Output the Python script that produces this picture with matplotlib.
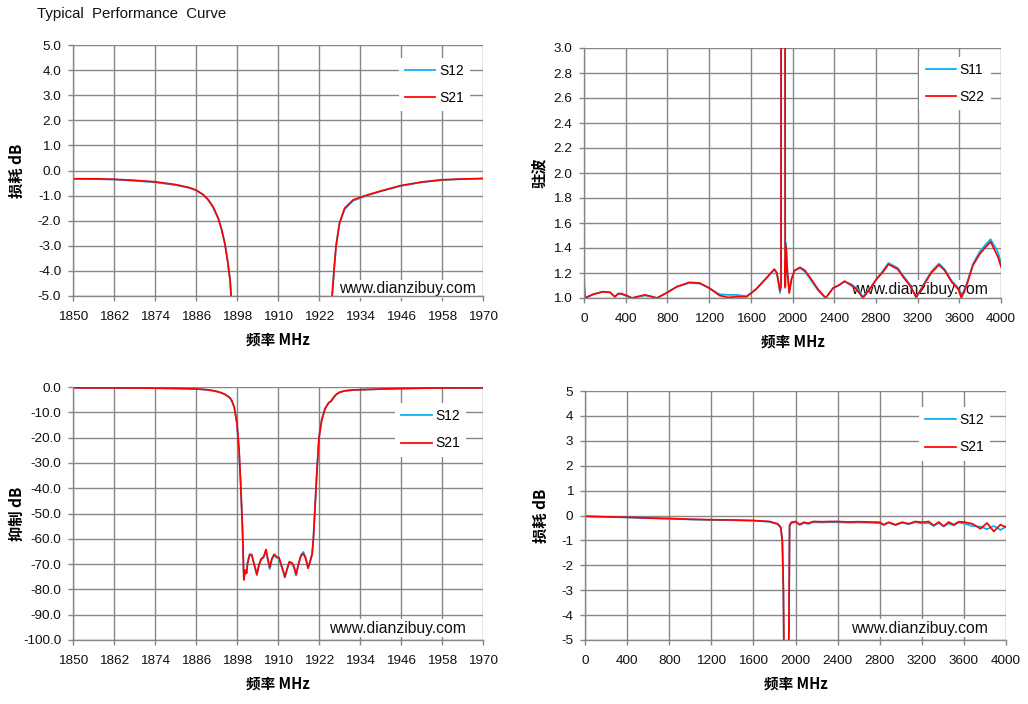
import matplotlib
matplotlib.use('Agg')
import matplotlib.pyplot as plt
import matplotlib.ticker as ticker
import numpy as np

plt.rcParams['font.family'] = ['Liberation Sans', 'Noto Sans CJK SC', 'DejaVu Sans']

# --- narrow band 1850-1970 MHz (top-left and bottom-left) ---
nb_freq = [1850, 1856, 1862, 1868, 1874, 1880, 1884, 1886, 1888, 1889.5,
           1891, 1892.5, 1893.5, 1894.5, 1895.3, 1896.0, 1896.5, 1897.2, 1898.0, 1898.6,
           1899.1, 1899.6, 1900.0, 1900.4, 1900.8, 1901.1, 1901.7, 1902.3, 1903.1, 1903.8,
           1904.4, 1905.1, 1905.8, 1906.5, 1907.0, 1907.6, 1908.2, 1908.9, 1909.6, 1910.3,
           1910.9, 1911.5, 1912.0, 1912.7, 1913.3, 1914.1, 1914.7, 1915.3, 1915.9, 1916.7,
           1917.4, 1918.1, 1918.8, 1919.4, 1920.0, 1920.4, 1920.9, 1921.4, 1922.0, 1922.8,
           1923.8, 1924.8, 1925.5, 1926.0, 1926.5, 1927.0, 1928.0, 1929.5, 1932, 1936,
           1940, 1946, 1952, 1958, 1964, 1970]
nb_s21 = [-0.33, -0.33, -0.35, -0.39, -0.45, -0.56, -0.68, -0.78, -0.95, -1.15,
          -1.45, -1.9, -2.35, -2.95, -3.65, -4.4, -5.5, -8.0, -14.5, -25,
          -39, -56, -76.3, -72.6, -73.7, -69.7, -66.4, -66.4, -70.4, -74.0,
          -70.4, -67.8, -67.1, -64.2, -67.8, -71.3, -67.8, -66.1, -67.1, -67.4,
          -70.0, -72.6, -75.0, -71.7, -69.1, -69.5, -71.0, -74.1, -70.4, -66.8,
          -65.8, -67.8, -71.7, -69.1, -66.1, -59, -46, -33, -20, -13,
          -8.5, -6.3, -5.6, -4.7, -3.8, -3.0, -2.1, -1.5, -1.17, -0.98,
          -0.82, -0.60, -0.46, -0.37, -0.34, -0.32]
nb_s12 = [-0.33, -0.34, -0.36, -0.41, -0.47, -0.58, -0.69, -0.79, -0.96, -1.16,
          -1.46, -1.91, -2.35, -2.95, -3.65, -4.4, -5.5, -8.0, -14.6, -25,
          -39, -56, -75.8, -72.3, -73.2, -69.3, -66.0, -66.2, -70.6, -74.4,
          -70.8, -68.2, -67.4, -64.6, -68.3, -72.0, -68.2, -66.5, -67.5, -67.9,
          -70.5, -73.0, -75.3, -72.0, -69.3, -69.8, -71.4, -74.5, -70.6, -66.5,
          -65.2, -67.4, -71.2, -68.7, -65.8, -59, -46, -33, -20, -13,
          -8.5, -6.3, -5.6, -4.7, -3.8, -3.0, -2.1, -1.55, -1.2, -1.0,
          -0.83, -0.61, -0.47, -0.38, -0.34, -0.32]

# --- wide band VSWR 0-4000 MHz (top-right) ---
vs_freq = [0, 10, 90, 180, 250, 295, 330, 360, 410, 460,
           510, 585, 630, 700, 790, 890, 1010, 1110, 1200, 1300,
           1380, 1460, 1560, 1650, 1750, 1826, 1850, 1880, 1890, 1896,
           1921, 1930, 1938, 1952, 1969, 1990, 2020, 2072, 2120, 2180,
           2245, 2318, 2390, 2440, 2500, 2565, 2612, 2676, 2740, 2805,
           2870, 2920, 2965, 3010, 3060, 3125, 3187, 3250, 3330, 3405,
           3460, 3525, 3590, 3620, 3670, 3730, 3795, 3845, 3900, 3970,
           4000]
vs_s22 = [1.14, 1.0, 1.03, 1.05, 1.045, 1.01, 1.035, 1.035, 1.02, 1.0,
          1.01, 1.025, 1.015, 1.0, 1.04, 1.09, 1.125, 1.12, 1.08, 1.02,
          1.005, 1.01, 1.01, 1.07, 1.16, 1.23, 1.2, 1.06, 1.1, 20.0,
          20.0, 1.09, 1.41, 1.2, 1.04, 1.15, 1.22, 1.245, 1.22, 1.15,
          1.07, 1.0, 1.08, 1.1, 1.135, 1.1, 1.07, 1.0, 1.07, 1.15,
          1.21, 1.27, 1.25, 1.23, 1.17, 1.1, 1.01, 1.09, 1.2, 1.265,
          1.22, 1.13, 1.07, 1.0, 1.1, 1.26, 1.35, 1.40, 1.45, 1.33,
          1.25]
vs_s11 = [1.0, 1.0, 1.03, 1.05, 1.045, 1.01, 1.035, 1.03, 1.015, 1.0,
          1.01, 1.02, 1.015, 1.0, 1.04, 1.09, 1.12, 1.115, 1.08, 1.03,
          1.025, 1.025, 1.015, 1.07, 1.16, 1.23, 1.2, 1.04, 1.1, 20.0,
          20.0, 1.08, 1.44, 1.2, 1.05, 1.15, 1.22, 1.24, 1.21, 1.14,
          1.06, 1.0, 1.08, 1.1, 1.13, 1.11, 1.08, 1.01, 1.07, 1.15,
          1.22, 1.28, 1.26, 1.24, 1.18, 1.11, 1.0, 1.1, 1.21, 1.275,
          1.23, 1.14, 1.08, 1.01, 1.11, 1.27, 1.37, 1.42, 1.47, 1.37,
          1.28]

# --- wide band loss 0-4000 MHz (bottom-right) ---
wb_freq = [0, 200, 400, 600, 800, 1000, 1200, 1400, 1600, 1750,
           1830, 1860, 1875, 1885, 1891, 1900, 1925, 1935, 1944, 1960,
           2000, 2040, 2080, 2120, 2170, 2250, 2330, 2400, 2500, 2600,
           2700, 2800, 2838, 2886, 2949, 3013, 3076, 3139, 3200, 3266,
           3313, 3361, 3408, 3456, 3503, 3551, 3608, 3680, 3757, 3820,
           3884, 3947, 4000]
wb_s21 = [-0.03, -0.05, -0.07, -0.10, -0.12, -0.15, -0.17, -0.18, -0.20, -0.24,
          -0.33, -0.47, -1.0, -3.0, -6.0, -70, -70, -6.0, -0.40, -0.27,
          -0.24, -0.36, -0.27, -0.31, -0.24, -0.25, -0.24, -0.24, -0.26, -0.25,
          -0.26, -0.27, -0.37, -0.27, -0.37, -0.27, -0.33, -0.24, -0.27, -0.24,
          -0.40, -0.26, -0.43, -0.26, -0.37, -0.25, -0.27, -0.33, -0.53, -0.30,
          -0.64, -0.37, -0.47]
wb_s12 = [-0.03, -0.06, -0.08, -0.11, -0.13, -0.16, -0.18, -0.19, -0.21, -0.25,
          -0.35, -0.50, -1.1, -3.2, -6.0, -70, -70, -6.0, -0.42, -0.30,
          -0.27, -0.38, -0.30, -0.34, -0.27, -0.28, -0.27, -0.27, -0.29, -0.28,
          -0.29, -0.31, -0.38, -0.29, -0.39, -0.29, -0.35, -0.27, -0.32, -0.30,
          -0.42, -0.30, -0.44, -0.32, -0.40, -0.28, -0.33, -0.42, -0.45, -0.55,
          -0.42, -0.58, -0.45]

nb_ticks = np.arange(1850, 1971, 12)
wb_ticks = np.arange(0, 4001, 400)

CYAN = '#00B0F0'
RED = '#FF0000'
GRID = '#868686'
CJK = ['Noto Sans CJK SC', 'DejaVu Sans']
LW = 1.25

fig = plt.figure(figsize=(10.28, 7.04), dpi=100)
W, H = 1028, 704


def add_axes(left, top, right, bottom):
    return fig.add_axes([left / W, 1 - bottom / H, (right - left) / W, (bottom - top) / H])


def style(ax, xlim, ylim, xticks, yticks, yfmt, ylabel, ylab_x):
    ax.set_xlim(*xlim)
    ax.set_ylim(*ylim)
    ax.set_xticks(xticks)
    ax.set_yticks(yticks)
    ax.yaxis.set_major_formatter(ticker.FormatStrFormatter(yfmt))
    ax.grid(True, color=GRID, lw=1.0)
    ax.set_axisbelow(True)
    for s in ['top', 'right']:
        ax.spines[s].set_visible(False)
    for s in ['left', 'bottom']:
        ax.spines[s].set_color(GRID)
        ax.spines[s].set_linewidth(1.0)
    ax.tick_params(direction='out', length=3.5, width=1.0, color=GRID,
                   labelsize=9.7, labelcolor='#111111')
    ax.tick_params(axis='x', pad=7)
    ax.tick_params(axis='y', pad=5)
    ax.set_xlabel('频率 MHz', family=CJK, fontsize=10.5, fontweight='bold')
    ax.xaxis.set_label_coords(0.5, -0.142)
    ax.set_ylabel(ylabel, family=CJK, fontsize=11, fontweight='bold')
    ax.yaxis.set_label_coords(ylab_x, 0.5)


def legend(ax, labels, anchor):
    leg = ax.legend(labels, loc='upper right', bbox_to_anchor=anchor,
                    fontsize=10, frameon=True, facecolor='white', edgecolor='none',
                    framealpha=1, fancybox=False, handlelength=2.2, handletextpad=0.25,
                    labelspacing=0.95, borderaxespad=0, borderpad=0.45)
    leg.set_zorder(5)


def watermark(ax, x, y):
    ax.text(x, y, 'www.dianzibuy.com', transform=ax.transAxes, ha='right', va='center',
            fontsize=11.3, color='#111111', zorder=1.5,
            bbox=dict(facecolor='white', edgecolor='none', pad=1.0))


def draw(ax, x, cyan, red):
    ax.plot(x, cyan, color=CYAN, lw=LW, solid_joinstyle='round')
    ax.plot(x, red, color=RED, lw=LW, solid_joinstyle='round')


# top-left: insertion loss zoom
ax1 = add_axes(73, 45, 483, 296)
draw(ax1, nb_freq, nb_s12, nb_s21)
style(ax1, (1850, 1970), (-5, 5), nb_ticks, np.arange(-5, 5.1, 1), '%.1f', '损耗 dB', -0.117)
legend(ax1, ['S12', 'S21'], (0.968, 0.95))
watermark(ax1, 0.983, 0.028)

# top-right: VSWR
ax2 = add_axes(584, 48, 1001, 298)
draw(ax2, vs_freq, vs_s11, vs_s22)
style(ax2, (0, 4000), (1.0, 3.0), wb_ticks, np.arange(1.0, 3.01, 0.2), '%.1f', '驻波', -0.089)
legend(ax2, ['S11', 'S22'], (0.976, 0.965))
watermark(ax2, 0.969, 0.035)

# bottom-left: rejection
ax3 = add_axes(73, 387, 483, 640)
draw(ax3, nb_freq, nb_s12, nb_s21)
style(ax3, (1850, 1970), (-100, 0), nb_ticks, np.arange(-100, 0.1, 10), '%.1f', '抑制 dB', -0.117)
legend(ax3, ['S12', 'S21'], (0.959, 0.937))
watermark(ax3, 0.959, 0.047)

# bottom-right: wide band loss
ax4 = add_axes(585, 391, 1006, 640)
draw(ax4, wb_freq, wb_s12, wb_s21)
style(ax4, (0, 4000), (-5, 5), wb_ticks, np.arange(-5, 5.1, 1), '%d', '损耗 dB', -0.086)
legend(ax4, ['S12', 'S21'], (0.962, 0.936))
watermark(ax4, 0.957, 0.048)

fig.text(37 / W, 1 - 14 / H, 'Typical  Performance  Curve', fontsize=10.8,
         va='center', ha='left', color='#111111')

fig.savefig('out.png', dpi=100)
